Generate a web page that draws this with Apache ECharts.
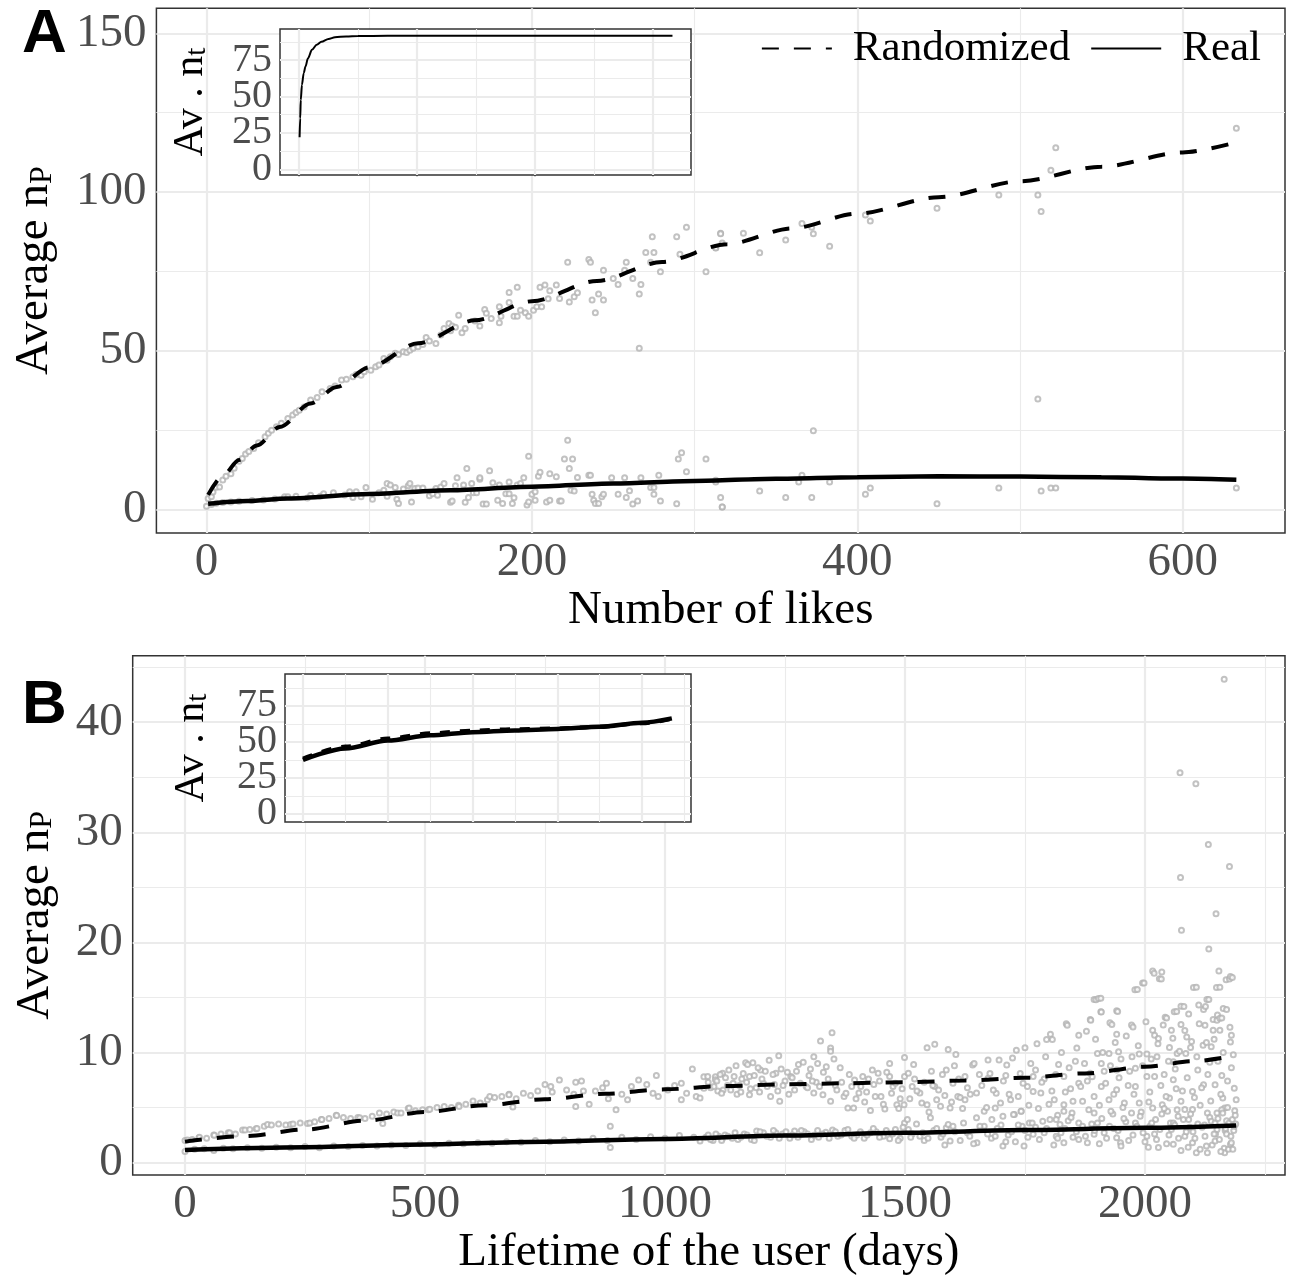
<!DOCTYPE html>
<html><head><meta charset="utf-8">
<script src="https://cdn.jsdelivr.net/npm/echarts@6/dist/echarts.min.js"></script>
<style>html,body{margin:0;padding:0;background:#fff}#c{width:1291px;height:1277px}</style>
</head><body><div id="c"></div><script>
// ---------- Panel A: Number of likes ----------
const aXTicks = [0, 200, 400, 600];
const aXMinor = [100, 300, 500];
const aYTicks = [0, 50, 100, 150];
const aYMinor = [25, 75, 125];
const aRandLine = [[1,4.6],[10,10.6],[20,15.6],[31,20.2],[45,26.0],[64,33.4],[80,38.6],[100,44.8],[130,52.4],[165,59.6],[200,65.6],[240,72.0],[280,78.0],[320,83.6],[360,88.6],[400,93.2],[450,98.4],[500,103.4],[550,108.0],[600,112.5],[630,115.3]];
const aRealLine = [[1,1.8],[25,2.7],[50,3.5],[100,4.9],[150,6.1],[200,7.2],[250,8.2],[300,9.0],[350,9.7],[400,10.2],[450,10.45],[500,10.4],[550,10.15],[600,9.75],[633,9.4]];
const aRandPts = [[1,3.5],[3,4.0],[4,5.5],[6,7.0],[8,7.1],[10,9.3],[12,10.5],[15,11.3],[17,13.0],[20,15.2],[22,16.1],[24,17.5],[26,18.3],[29,19.2],[32,21.0],[36,22.9],[38,24.0],[40,25.0],[43,26.1],[46,27.2],[50,28.7],[53,29.8],[55,30.6],[57,31.3],[60,32.3],[64,34.5],[68,35.3],[71,37.1],[76,38.1],[79,38.9],[83,40.8],[86,41.0],[90,41.8],[92,42.5],[95,42.3],[97,43.4],[101,43.9],[104,45.0],[106,45.5],[109,47.6],[111,47.0],[113,48.1],[116,49.2],[118,48.8],[121,49.7],[123,49.5],[125,50.2],[127,50.8],[130,51.3],[133,52.0],[135,54.2],[137,53.1],[141,52.3],[144,55.0],[146,57.0],[149,58.6],[150,56.3],[151,57.8],[153,57.4],[155,61.2],[157,55.7],[159,57.0],[165,59.4],[168,57.8],[171,63.0],[172,61.8],[175,60.2],[180,58.8],[181,60.9],[180,63.9],[186,68.4],[186,65.2],[189,60.9],[191,60.9],[191,70.0],[193,62.8],[196,62.0],[198,60.9],[201,62.8],[203,63.9],[205,70.0],[206,63.9],[208,70.7],[210,66.4],[211,68.9],[215,70.7],[217,66.5],[222,77.9],[223,65.4],[226,67.0],[228,68.3],[235,78.8],[236,77.9],[237,66.0],[239,62.0],[241,67.9],[244,66.0],[244,75.4],[250,72.8],[253,70.9],[257,75.4],[258,77.9],[262,72.8],[266,67.9],[266,50.8],[267,70.9],[270,81.0],[273,77.9],[274,85.9],[275,81.0],[279,74.9],[289,85.9],[291,80.4],[295,88.9],[307,74.9],[313,82.5],[313,82.4],[316,87.0],[316,86.9],[317,84.0],[330,87.0],[340,80.9],[356,84.9],[366,90.1],[372,88.9],[373,86.9],[383,82.9],[405,92.8],[408,90.9],[449,94.9],[487,99.1],[511,99.1],[511,34.8],[513,93.9],[519,106.9],[522,114.0],[633,120.1]];
const aRealPts = [[0,1.0],[3,1.6],[6,2.0],[10,2.2],[15,2.4],[20,2.6],[28,2.8],[35,3.0],[42,3.3],[48,4.0],[50,4.0],[55,4.2],[62,3.6],[64,4.5],[70,4.2],[72,5.0],[78,5.3],[85,4.6],[88,5.6],[90,3.8],[92,5.6],[95,4.0],[98,6.9],[102,3.2],[106,5.3],[109,6.1],[111,8.2],[111,4.2],[113,7.7],[116,6.9],[117,3.2],[118,1.9],[121,6.5],[124,7.5],[125,8.2],[126,2.4],[128,6.6],[130,6.8],[133,6.8],[137,4.3],[139,5.0],[141,6.6],[142,4.5],[144,7.1],[146,8.2],[150,2.3],[151,2.7],[153,7.5],[154,10.0],[158,7.7],[159,2.3],[160,12.9],[161,3.8],[163,8.2],[164,5.3],[166,5.3],[168,9.5],[168,10.0],[170,1.7],[172,1.7],[174,12.2],[176,8.4],[179,2.9],[180,7.7],[182,1.9],[184,5.0],[186,5.0],[186,8.7],[188,1.9],[189,3.7],[191,7.7],[193,8.2],[195,10.0],[197,1.4],[198,2.4],[198,16.8],[200,4.8],[202,5.6],[202,2.9],[204,10.5],[205,11.7],[209,2.4],[211,11.3],[211,2.9],[215,10.3],[217,2.7],[218,2.7],[220,15.9],[222,21.8],[223,12.9],[224,6.1],[225,15.9],[226,5.8],[228,10.1],[235,10.8],[236,10.8],[237,4.8],[238,2.9],[239,1.9],[241,1.9],[243,4.0],[244,4.8],[249,10.0],[253,4.8],[257,10.0],[258,3.8],[260,5.9],[262,1.7],[265,2.7],[267,10.0],[273,6.9],[275,6.9],[275,4.8],[278,10.8],[279,2.7],[289,1.8],[290,15.9],[292,17.9],[295,11.9],[307,15.9],[313,9.2],[313,8.7],[316,3.8],[317,0.8],[317,0.8],[340,5.8],[356,3.8],[364,8.7],[366,10.8],[372,3.8],[373,24.8],[383,8.7],[405,4.8],[408,6.8],[449,1.8],[487,6.8],[513,5.8],[519,6.8],[522,6.8],[633,6.8]];
const insetALikes = [1, 2, 3, 5, 8, 11, 15, 22, 30, 38, 50, 61, 80, 100, 150, 200, 300, 400, 500, 633];
const insetANt = [22, 35, 47.6, 58, 66, 70.5, 76, 82, 85.5, 87.6, 89.5, 90.6, 91.2, 91.5, 91.6, 91.6, 91.6, 91.6, 91.6, 91.6];
const insetXTicksA = [0, 200, 400, 600];
const insetXMinorA = [100, 300, 500];
const insetYTicks = [0, 25, 50, 75];
const insetYMinor = [12.5, 37.5, 62.5, 87.5];

// ---------- Panel B: Lifetime of the user ----------
const bXTicks = [0, 500, 1000, 1500, 2000];
const bXMinor = [250, 750, 1250, 1750, 2250];
const bYTicks = [0, 10, 20, 30, 40];
const bYMinor = [5, 15, 25, 35, 45];
const bRandLine = [[0,1.9],[125,2.4],[250,3.0],[375,3.8],[500,4.6],[625,5.2],[750,5.75],[875,6.25],[1000,6.65],[1125,6.95],[1250,7.1],[1375,7.2],[1500,7.3],[1625,7.45],[1750,7.7],[1875,8.1],[2000,8.7],[2100,9.2],[2180,9.65]];
const bRealLine = [[0,1.15],[250,1.4],[500,1.65],[750,1.9],[1000,2.15],[1250,2.45],[1500,2.7],[1750,2.95],[2000,3.15],[2190,3.37]];
const bRandPts = [[0,2.0],[5,2.05],[15,2.1],[29,2.26],[30,2.3],[45,2.2],[60,2.5],[61,2.47],[75,2.6],[90,2.7],[93,2.7],[105,2.6],[120,2.95],[125,2.95],[135,3.0],[148,3.07],[150,3.1],[165,3.3],[172,3.46],[180,3.4],[195,3.5],[210,3.4],[220,3.46],[225,3.5],[240,3.6],[255,3.55],[260,3.6],[270,3.7],[284,3.9],[285,3.9],[300,4.0],[315,4.3],[316,4.27],[330,4.1],[345,4.0],[360,4.1],[364,4.06],[375,4.0],[390,4.2],[405,4.5],[412,3.55],[420,4.4],[435,4.6],[443,4.5],[450,4.5],[465,4.9],[467,4.96],[480,4.7],[495,4.8],[507,4.8],[510,4.85],[525,5.0],[540,5.1],[555,5.0],[570,5.2],[571,5.1],[585,5.3],[600,5.6],[615,5.4],[630,5.7],[635,6.0],[645,5.9],[660,6.0],[675,6.2],[675,6.16],[683,5.05],[690,5.8],[705,6.3],[720,6.1],[735,6.5],[750,7.1],[762,6.9],[765,6.4],[780,7.5],[795,6.6],[810,6.2],[814,7.3],[814,5.1],[826,7.4],[830,6.5],[842,5.3],[855,6.5],[870,6.8],[878,7.2],[882,5.8],[886,3.3],[898,4.8],[910,6.2],[922,5.7],[930,6.9],[945,7.5],[962,7.1],[975,6.3],[982,7.9],[986,6.0],[1006,6.6],[1020,7.0],[1034,7.2],[1034,5.7],[1045,6.3],[1057,8.5],[1065,6.0],[1073,5.86],[1081,7.8],[1081,6.76],[1089,7.81],[1090,7.3],[1095,6.8],[1105,7.8],[1105,7.51],[1110,6.5],[1120,8.11],[1121,6.6],[1130,7.0],[1144,7.81],[1150,6.2],[1160,7.6],[1168,9.07],[1176,6.16],[1176,7.81],[1183,9.07],[1190,6.8],[1199,8.41],[1205,7.2],[1217,9.3],[1220,6.0],[1231,8.11],[1237,9.7],[1239,5.56],[1250,7.4],[1262,7.81],[1270,6.6],[1278,8.9],[1294,6.91],[1300,7.9],[1310,9.6],[1310,6.31],[1315,7.3],[1324,11.03],[1329,6.16],[1330,8.2],[1345,10.4],[1345,10.1],[1345,5.56],[1348,11.78],[1355,7.0],[1365,8.6],[1373,6.01],[1381,4.96],[1389,6.91],[1393,4.96],[1395,7.5],[1404,6.31],[1412,7.81],[1420,6.4],[1428,4.72],[1432,8.41],[1435,7.1],[1444,8.11],[1450,6.0],[1458,4.87],[1468,7.81],[1468,9.0],[1475,6.9],[1483,5.26],[1490,5.8],[1498,5.26],[1499,9.55],[1499,7.81],[1507,8.11],[1515,6.91],[1520,7.6],[1531,6.31],[1535,5.4],[1546,10.42],[1546,5.26],[1555,8.3],[1562,10.75],[1562,6.91],[1570,6.6],[1574,5.11],[1586,8.41],[1590,10.27],[1594,4.96],[1600,7.2],[1606,9.82],[1610,6.01],[1615,5.9],[1625,7.81],[1625,5.71],[1630,6.8],[1641,8.86],[1649,6.31],[1655,8.0],[1665,4.66],[1673,9.31],[1673,7.66],[1688,4.96],[1690,6.3],[1696,9.31],[1705,7.4],[1712,8.86],[1720,5.7],[1728,4.36],[1732,10.2],[1740,8.1],[1742,4.66],[1750,10.42],[1755,6.9],[1767,7.81],[1767,6.46],[1775,10.8],[1783,6.31],[1790,7.6],[1795,11.18],[1800,5.3],[1803,11.66],[1807,11.18],[1811,5.71],[1820,8.9],[1831,7.81],[1831,5.26],[1831,4.66],[1836,12.6],[1838,12.47],[1845,6.7],[1850,5.56],[1855,9.2],[1862,11.57],[1862,7.21],[1870,5.56],[1878,11.93],[1880,7.4],[1886,8.11],[1886,13.0],[1887,12.92],[1894,14.8],[1894,6.01],[1898,14.78],[1901,9.91],[1903,14.9],[1908,14.93],[1908,13.7],[1909,13.67],[1909,9.0],[1909,6.91],[1915,8.3],[1925,9.91],[1925,5.71],[1927,12.7],[1931,12.53],[1935,6.2],[1941,11.66],[1941,13.8],[1941,8.41],[1941,6.61],[1943,13.73],[1945,10.06],[1950,9.4],[1957,5.41],[1965,7.0],[1972,12.5],[1973,9.61],[1975,12.32],[1979,15.7],[1980,8.56],[1980,6.91],[1984,15.71],[1988,9.85],[1988,5.41],[1995,16.3],[1995,8.8],[1998,16.31],[2004,9.85],[2004,7.81],[2010,6.4],[2016,12.02],[2016,17.4],[2019,17.2],[2020,11.57],[2020,7.81],[2025,9.6],[2028,11.26],[2030,16.7],[2034,16.67],[2035,17.3],[2036,5.26],[2040,8.0],[2042,13.2],[2045,13.13],[2051,10.45],[2051,5.86],[2055,12.02],[2059,7.51],[2059,9.16],[2061,13.7],[2065,6.7],[2066,13.73],[2067,9.91],[2073,35.4],[2074,25.9],[2075,12.53],[2075,14.2],[2075,5.56],[2076,21.1],[2081,14.18],[2083,4.81],[2085,9.9],[2087,11.41],[2091,13.5],[2095,10.45],[2099,6.46],[2099,4.81],[2101,15.9],[2106,34.4],[2107,15.92],[2110,8.4],[2112,14.3],[2115,5.2],[2121,10.66],[2122,13.9],[2122,7.06],[2125,12.47],[2126,14.18],[2129,14.8],[2130,4.51],[2132,28.9],[2133,14.81],[2133,19.4],[2135,9.1],[2138,10.52],[2142,12.02],[2142,13.0],[2146,7.06],[2148,22.6],[2149,15.9],[2150,12.92],[2150,4.51],[2151,13.4],[2154,17.4],[2156,15.92],[2156,12.02],[2156,13.1],[2160,13.13],[2160,7.9],[2162,5.86],[2163,14.0],[2165,43.9],[2166,4.96],[2169,16.6],[2170,13.91],[2170,3.8],[2176,16.67],[2176,26.9],[2178,10.96],[2178,16.9],[2180,11.57],[2180,8.6],[2182,16.82],[2186,6.76],[2190,5.71]];
const bRandPtsDense = [[1102,6.9],[1108,7.4],[1115,8.0],[1118,6.3],[1126,7.7],[1133,8.4],[1137,6.6],[1142,7.2],[1148,8.8],[1155,7.0],[1158,6.4],[1163,8.1],[1170,7.3],[1172,8.9],[1178,6.7],[1186,7.9],[1194,8.6],[1197,6.4],[1202,7.6],[1209,8.3],[1213,6.9],[1225,8.0],[1228,7.1],[1235,6.5],[1242,8.5],[1246,7.0],[1255,8.2],[1258,6.2],[1265,7.7],[1274,8.3],[1282,7.2],[1288,9.1],[1297,6.8],[1303,8.5],[1307,7.4],[1318,9.0],[1322,6.9],[1336,8.7],[1340,7.6],[1352,9.4],[1358,6.6],[1368,7.3],[1377,6.3],[1384,8.0],[1398,5.8],[1408,6.9],[1416,5.5],[1424,7.6],[1438,6.0],[1447,7.4],[1455,5.3],[1462,8.2],[1472,6.3],[1480,7.2],[1487,4.9],[1494,6.7],[1510,5.8],[1518,8.9],[1525,6.5],[1540,7.3],[1550,4.6],[1558,7.0],[1566,5.7],[1578,8.0],[1583,6.1],[1597,5.5],[1603,8.8],[1612,7.6],[1620,4.9],[1636,6.2],[1644,9.0],[1660,7.0],[1670,5.0],[1677,8.1],[1684,6.6],[1699,5.4],[1710,7.9],[1717,6.2],[1724,9.5],[1736,6.0],[1746,7.2],[1758,5.2],[1762,9.0],[1772,8.4],[1778,4.9],[1785,7.3],[1793,9.6],[1806,6.5],[1814,8.0],[1818,4.3],[1826,10.0],[1834,6.4],[1842,8.6],[1848,4.5],[1858,10.4],[1866,6.9],[1874,9.0],[1883,4.8],[1890,7.8],[1897,11.2],[1905,5.2],[1912,10.0],[1918,7.2],[1928,8.8],[1933,4.4],[1938,10.9],[1946,7.7],[1954,5.0],[1961,11.5],[1968,8.3],[1977,6.2],[1986,10.6],[1992,4.6],[2002,12.8],[2008,5.5],[2013,9.4],[2022,3.9],[2027,10.8],[2033,7.0],[2038,12.5],[2044,6.0],[2049,9.2],[2053,3.6],[2058,11.3],[2063,8.5],[2069,4.2],[2072,10.1],[2078,6.5],[2083,12.0],[2088,7.7],[2093,3.2],[2097,11.0],[2103,5.9],[2108,9.6],[2113,12.6],[2118,6.8],[2124,3.4],[2128,10.9],[2131,8.0],[2137,5.6],[2144,11.2],[2147,2.6],[2152,9.2],[2158,6.2],[2163,10.0],[2167,2.9],[2172,7.4],[2177,12.3],[2184,9.8],[2187,4.7]];
const bRealPts = [[0,1.0],[20,1.2],[40,1.25],[60,1.1],[80,1.3],[100,1.25],[130,1.35],[160,1.3],[190,1.4],[220,1.35],[250,1.45],[280,1.35],[310,1.5],[340,1.45],[370,1.55],[400,1.5],[430,1.6],[460,1.55],[490,1.7],[520,1.6],[550,1.75],[580,1.7],[610,1.8],[640,1.75],[670,1.9],[700,1.85],[730,2.0],[760,1.9],[790,2.05],[820,1.95],[850,2.2],[880,2.0],[886,1.36],[910,2.3],[940,2.1],[970,2.35],[1000,2.2],[1030,2.45],[1060,2.3],[1073,1.95],[1085,2.3],[1090,2.5],[1100,2.0],[1112,2.4],[1120,2.2],[1125,2.5],[1140,2.2],[1152,2.1],[1165,2.6],[1180,2.1],[1191,2.86],[1205,2.7],[1220,2.3],[1231,2.71],[1245,2.6],[1260,2.2],[1270,2.86],[1290,2.8],[1310,2.47],[1320,2.3],[1335,2.75],[1349,2.95],[1360,2.4],[1375,2.9],[1389,2.4],[1400,2.5],[1415,2.2],[1428,2.71],[1440,2.8],[1455,2.4],[1468,2.17],[1480,3.0],[1490,2.2],[1499,3.6],[1505,3.9],[1507,3.0],[1515,2.6],[1531,2.4],[1540,2.0],[1553,4.06],[1560,2.9],[1575,2.3],[1586,3.15],[1590,3.46],[1594,1.95],[1600,3.3],[1615,2.0],[1630,2.7],[1649,4.06],[1650,1.8],[1660,3.0],[1665,3.3],[1680,2.2],[1681,3.9],[1688,2.4],[1700,3.4],[1704,4.2],[1704,1.5],[1715,2.5],[1726,4.36],[1730,1.9],[1742,4.66],[1744,3.3],[1750,2.9],[1759,3.6],[1765,3.6],[1767,2.56],[1780,2.1],[1787,3.75],[1795,3.1],[1810,1.6],[1815,3.9],[1815,2.4],[1823,3.46],[1825,2.7],[1831,1.8],[1840,3.8],[1850,2.3],[1862,3.6],[1862,2.1],[1870,3.3],[1880,1.8],[1894,4.5],[1894,2.56],[1895,2.9],[1901,3.6],[1910,4.0],[1920,2.2],[1929,4.66],[1935,3.1],[1941,2.26],[1949,1.8],[1950,1.5],[1960,3.7],[1972,4.5],[1975,2.5],[1980,3.6],[1990,4.2],[2000,1.9],[2004,2.4],[2010,3.3],[2016,4.96],[2020,2.6],[2028,1.36],[2035,4.4],[2045,1.7],[2047,4.66],[2055,3.0],[2059,1.66],[2059,3.6],[2067,4.8],[2070,2.2],[2080,3.9],[2083,2.4],[2090,1.4],[2091,3.9],[2099,1.8],[2100,2.8],[2107,0.9],[2110,3.5],[2115,1.2],[2125,2.4],[2130,0.9],[2135,4.1],[2138,3.75],[2140,1.6],[2146,3.6],[2146,1.95],[2150,3.0],[2155,2.1],[2160,4.8],[2162,4.5],[2165,1.3],[2166,0.9],[2170,2.6],[2174,1.2],[2175,3.6],[2178,1.66],[2180,1.8],[2182,3.9],[2185,2.9],[2186,3.3],[2188,4.3]];
const bRealPtsDense = [[1095,2.1],[1106,2.6],[1118,2.0],[1131,2.4],[1146,2.7],[1158,2.3],[1171,2.5],[1186,2.0],[1198,2.8],[1212,2.4],[1226,2.9],[1238,2.2],[1252,2.8],[1265,2.5],[1277,2.3],[1284,2.9],[1297,2.6],[1305,2.1],[1318,2.9],[1328,2.6],[1342,2.2],[1355,2.8],[1367,2.5],[1381,3.0],[1394,2.2],[1407,2.8],[1421,2.5],[1434,3.1],[1447,2.3],[1461,2.9],[1474,2.6],[1486,2.0],[1496,3.2],[1512,2.3],[1524,3.5],[1537,2.7],[1548,2.2],[1566,3.1],[1579,2.6],[1583,1.6],[1604,2.8],[1622,3.6],[1635,2.4],[1643,1.7],[1656,3.3],[1672,2.6],[1692,3.1],[1710,1.9],[1722,2.8],[1736,3.4],[1748,1.5],[1756,2.3],[1772,3.2],[1790,2.7],[1802,3.9],[1818,2.2],[1833,3.1],[1846,4.1],[1857,2.8],[1876,2.4],[1889,3.5],[1905,1.7],[1915,2.7],[1926,3.3],[1944,2.9],[1956,4.0],[1966,2.0],[1983,3.3],[1996,2.7],[2007,1.4],[2014,3.6],[2024,2.1],[2031,3.0],[2040,4.9],[2050,2.5],[2062,3.4],[2075,1.1],[2086,2.8],[2095,4.4],[2104,2.2],[2119,3.2],[2128,1.5],[2144,2.6],[2152,4.0],[2158,1.0],[2168,3.1],[2172,5.0],[2179,2.4],[2183,1.2],[2189,3.5]];
const insetBDays = [0, 250, 500, 750, 1000, 1250, 1500, 1750, 2000, 2176];
const insetBReal = [37.5, 45.5, 51.0, 54.6, 56.8, 58.0, 59.0, 60.6, 63.4, 66.4];
const insetBRand = [38.5, 46.8, 52.4, 56.0, 57.9, 58.9, 59.4, 60.6, 63.0, 66.0];
const insetXTicksB = [0, 500, 1000, 1500, 2000];
const insetXMinorB = [250, 750, 1250, 1750, 2250];

// ---------- build chart ----------
const SERIF = '"Liberation Serif","Times New Roman",serif';
const GRIDC = '#ebebeb';
const zipXY = (xs, ys) => xs.map((x, i) => [x, ys[i]]);
const plain = v => String(v);
// inset y labels alternate over two left axes so that none is dropped for overlap
const insetLabelsEven = insetYTicks.filter((v, i) => i % 2 === 0);
const insetLabelsOdd = insetYTicks.filter((v, i) => i % 2 === 1);

function gridMarks(xMaj, xMin, yMaj, yMin, z) {
  const d = [];
  xMin.forEach(v => d.push({xAxis: v, lineStyle: {width: 1.1, color: GRIDC}}));
  yMin.forEach(v => d.push({yAxis: v, lineStyle: {width: 1.1, color: GRIDC}}));
  xMaj.forEach(v => d.push({xAxis: v, lineStyle: {width: 2.2, color: GRIDC}}));
  yMaj.forEach(v => d.push({yAxis: v, lineStyle: {width: 2.2, color: GRIDC}}));
  return {silent: true, symbol: ['none', 'none'], label: {show: false}, animation: false, z: z,
          emphasis: {disabled: true}, lineStyle: {type: 'solid'}, data: d};
}
function xAx(gi, min, max, ticks, opts) {
  return Object.assign({type: 'value', gridIndex: gi, min: min, max: max,
    axisLine: {show: false}, splitLine: {show: false},
    axisTick: {show: true, length: 7, customValues: ticks, lineStyle: {color: '#333', width: 1.5}},
    axisLabel: {show: true, customValues: ticks, formatter: plain, hideOverlap: false, fontFamily: SERIF, fontSize: 47, color: '#4d4d4d', margin: 6},
    nameLocation: 'middle', nameTextStyle: {fontFamily: SERIF, fontSize: 47, color: '#000'}}, opts || {});
}
function yAx(gi, min, max, ticks, opts) {
  return Object.assign({type: 'value', gridIndex: gi, min: min, max: max, position: 'left', offset: 0,
    axisLine: {show: false}, splitLine: {show: false},
    axisTick: {show: true, length: 7, customValues: ticks, lineStyle: {color: '#333', width: 1.5}},
    axisLabel: {show: true, customValues: ticks, formatter: plain, hideOverlap: false, fontFamily: SERIF, fontSize: 47, color: '#4d4d4d', margin: 10},
    nameLocation: 'middle'}, opts || {});
}
const subName = (main, sub, fs, sfs) => ({
  name: '{a|' + main + '}{s|' + sub + '}',
  nameTextStyle: {rich: {
    a: {fontFamily: SERIF, fontSize: fs, color: '#000'},
    s: {fontFamily: SERIF, fontSize: sfs, color: '#000', verticalAlign: 'bottom', lineHeight: Math.round(sfs * 0.35)}
  }}
});
const insetYLabel = vals => ({show: true, customValues: vals, formatter: plain, hideOverlap: false,
  fontFamily: SERIF, fontSize: 40, color: '#4d4d4d', margin: 8});
const ptStyle = {color: '#b3b3b3', borderWidth: 1};
const scatterBase = {type: 'scatter', symbol: 'emptyCircle', symbolSize: 5, itemStyle: ptStyle, z: 2, silent: true};

const option = {
  animation: false,
  backgroundColor: '#fff',
  grid: [
    {left: 156.4, top: 8.3, width: 1128.6, height: 524.7, show: true, borderColor: '#333', borderWidth: 1.5, backgroundColor: 'transparent'},
    {left: 280, top: 29, width: 411, height: 146, show: true, borderColor: '#333', borderWidth: 1.5, backgroundColor: '#fff', z: 10},
    {left: 132.7, top: 655.7, width: 1152.3, height: 523.6, show: true, borderColor: '#333', borderWidth: 1.5, backgroundColor: 'transparent'},
    {left: 285, top: 674, width: 406, height: 148, show: true, borderColor: '#333', borderWidth: 1.5, backgroundColor: '#fff', z: 10}
  ],
  xAxis: [
    xAx(0, -30.8, 662.9, aXTicks, {name: 'Number of likes', nameGap: 48}),
    xAx(1, -32.2, 664.4, insetXTicksA, {z: 11, axisLabel: {show: false}}),
    xAx(2, -109, 2291.7, bXTicks, {name: 'Lifetime of the user (days)', nameGap: 44}),
    xAx(3, -106.2, 2289, insetXTicksB, {z: 11, axisLabel: {show: false}})
  ],
  yAxis: [
    yAx(0, -7.4, 157.9, aYTicks, Object.assign({nameGap: 98}, subName('Average n', 'P', 47, 32))),
    yAx(1, -3.9, 96.3, insetYTicks, Object.assign({z: 11, nameGap: 68, axisLabel: insetYLabel(insetLabelsEven)}, subName('Av . n', 't', 42, 29))),
    yAx(2, -1.14, 46.04, bYTicks, Object.assign({nameGap: 74}, subName('Average n', 'P', 47, 32))),
    yAx(3, -5.56, 97.2, insetYTicks, Object.assign({z: 11, nameGap: 72, axisLabel: insetYLabel(insetLabelsEven)}, subName('Av . n', 't', 42, 29))),
    yAx(1, -3.9, 96.3, insetLabelsOdd, {z: 11, axisTick: {show: false}, axisLabel: insetYLabel(insetLabelsOdd)}),
    yAx(3, -5.56, 97.2, insetLabelsOdd, {z: 11, axisTick: {show: false}, axisLabel: insetYLabel(insetLabelsOdd)})
  ],
  legend: {
    data: ['Randomized', 'Real'], right: 25, top: 22, itemWidth: 70, itemHeight: 14, itemGap: 20,
    selectedMode: false, itemStyle: {opacity: 0, borderWidth: 0},
    textStyle: {fontFamily: SERIF, fontSize: 43, color: '#000', padding: [0, 0, 0, 16]}
  },
  graphic: [
    {type: 'text', left: 22, top: 4, style: {text: 'A', fontFamily: '"Liberation Sans",Arial,sans-serif', fontWeight: 'bold', fontSize: 62, fill: '#000'}},
    {type: 'text', left: 22, top: 675, style: {text: 'B', fontFamily: '"Liberation Sans",Arial,sans-serif', fontWeight: 'bold', fontSize: 62, fill: '#000'}}
  ],
  series: [
    Object.assign({name: 'A randomized points', xAxisIndex: 0, yAxisIndex: 0, data: aRandPts, markLine: gridMarks(aXTicks, aXMinor, aYTicks, aYMinor, 1)}, scatterBase),
    Object.assign({name: 'A real points', xAxisIndex: 0, yAxisIndex: 0, data: aRealPts}, scatterBase),
    {name: 'Randomized', type: 'line', xAxisIndex: 0, yAxisIndex: 0, data: aRandLine, smooth: 0.3, smoothMonotone: 'x', symbol: 'none', z: 3,
     itemStyle: {color: '#000'}, lineStyle: {color: '#000', width: 4, type: [17, 15]}},
    {name: 'Real', type: 'line', xAxisIndex: 0, yAxisIndex: 0, data: aRealLine, smooth: 0.3, smoothMonotone: 'x', symbol: 'none', z: 3,
     itemStyle: {color: '#000'}, lineStyle: {color: '#000', width: 4.5}},
    {name: 'inset A', type: 'line', xAxisIndex: 1, yAxisIndex: 1, data: zipXY(insetALikes, insetANt), smooth: 0.3, smoothMonotone: 'x', symbol: 'none', z: 13,
     lineStyle: {color: '#000', width: 2}, markLine: gridMarks(insetXTicksA, insetXMinorA, insetYTicks, insetYMinor, 12)},
    Object.assign({name: 'B randomized points', xAxisIndex: 2, yAxisIndex: 2, data: bRandPts.concat(bRandPtsDense), markLine: gridMarks(bXTicks, bXMinor, bYTicks, bYMinor, 1)}, scatterBase),
    Object.assign({name: 'B real points', xAxisIndex: 2, yAxisIndex: 2, data: bRealPts.concat(bRealPtsDense)}, scatterBase),
    {name: 'Randomized', type: 'line', xAxisIndex: 2, yAxisIndex: 2, data: bRandLine, smooth: 0.3, smoothMonotone: 'x', symbol: 'none', z: 3,
     itemStyle: {color: '#000'}, lineStyle: {color: '#000', width: 4, type: [17, 15]}},
    {name: 'Real', type: 'line', xAxisIndex: 2, yAxisIndex: 2, data: bRealLine, smooth: 0.3, smoothMonotone: 'x', symbol: 'none', z: 3,
     itemStyle: {color: '#000'}, lineStyle: {color: '#000', width: 4.5}},
    {name: 'inset B real', type: 'line', xAxisIndex: 3, yAxisIndex: 3, data: zipXY(insetBDays, insetBReal), smooth: 0.3, smoothMonotone: 'x', symbol: 'none', z: 13,
     lineStyle: {color: '#000', width: 4.5}, markLine: gridMarks(insetXTicksB, insetXMinorB, insetYTicks, insetYMinor, 12)},
    {name: 'inset B randomized', type: 'line', xAxisIndex: 3, yAxisIndex: 3, data: zipXY(insetBDays, insetBRand), smooth: 0.3, smoothMonotone: 'x', symbol: 'none', z: 13,
     lineStyle: {color: '#000', width: 4, type: [10, 10]}}
  ]
};
const chart = echarts.init(document.getElementById('c'), null, {renderer: 'canvas'});
chart.setOption(option);
</script></body></html>
